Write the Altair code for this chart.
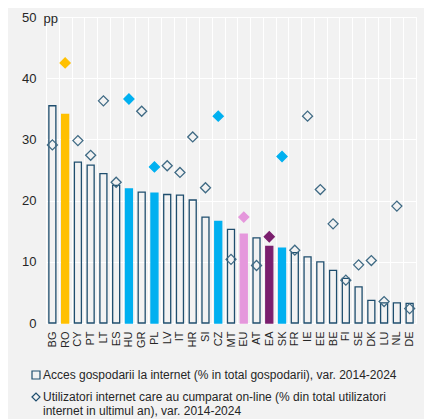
import altair as alt
import pandas as pd

countries = ["BG","RO","CY","PT","LT","ES","HU","GR","PL","LV","IT","HR","SI","CZ","MT",
             "EU","AT","EA","SK","FR","IE","EE","BE","FI","SE","DK","LU","NL","DE"]
access = [35.5,34.1,26.3,25.8,24.4,22.5,21.9,21.4,21.2,21.0,20.9,20.1,17.3,16.6,15.3,
          14.5,13.9,12.5,12.25,11.5,10.8,10.0,8.6,7.3,5.9,3.7,3.3,3.3,3.2]
online = [29.1,42.5,29.8,27.4,36.3,23.0,36.6,34.6,25.5,25.7,24.6,30.4,22.1,33.8,10.4,
          17.3,9.4,14.1,27.2,11.9,33.8,21.8,16.2,7.0,9.5,10.2,3.5,19.1,2.35]
highlight = {"RO": "#ffc000", "HU": "#00b0f0", "PL": "#00b0f0", "CZ": "#00b0f0",
             "SK": "#00b0f0", "EU": "#e597dc", "EA": "#7b1f6e"}

S1 = "Acces gospodarii la internet (% in total gospodarii), var. 2014-2024"
S2 = "Utilizatori internet care au cumparat on-line (% din total utilizatori internet in ultimul an), var. 2014-2024"
S2_lines = ["Utilizatori internet care au cumparat on-line (% din total utilizatori",
            "internet in ultimul an), var. 2014-2024"]

BAR_STROKE = "#1f4e6e"
PT_STROKE = "#3f6a84"

df = pd.DataFrame({
    "country": countries,
    "access": access,
    "online": online,
    "bfill": [highlight.get(c, "transparent") for c in countries],
    "bstroke": [highlight.get(c, BAR_STROKE) for c in countries],
    "pfill": [highlight.get(c, "transparent") for c in countries],
    "pstroke": [highlight.get(c, PT_STROKE) for c in countries],
    "series": [S2] * len(countries),
})

x_enc = alt.X("country:N", sort=countries,
              scale=alt.Scale(paddingInner=0, paddingOuter=0),
              axis=alt.Axis(title=None, labelAngle=-90, labelFontSize=11, labelColor="#262626",
                            ticks=False, domain=False, grid=True, gridColor="white",
                            gridWidth=1, tickBand="extent", labelPadding=8))

y_enc_axis = alt.Axis(title="pp", titleAngle=0, titleX=-3, titleY=1, titleAlign="left",
                      titleBaseline="middle", titleFontSize=13, titleFontWeight="normal",
                      titleColor="#262626", values=list(range(0, 55, 5)), labelFontSize=13,
                      labelColor="#262626", ticks=False, domain=False, grid=True,
                      gridColor="white", gridWidth=1, labelPadding=10)

bars = alt.Chart(df).mark_bar(size=7, strokeWidth=1.3).encode(
    x=x_enc,
    y=alt.Y("access:Q", scale=alt.Scale(domain=[0, 50], nice=False), axis=y_enc_axis),
    fill=alt.Fill("bfill:N", scale=None),
    stroke=alt.Stroke("bstroke:N", scale=None),
)

legend_expr = ("datum.label == '%s' ? ['%s', '%s'] : datum.label"
               % (S2, S2_lines[0], S2_lines[1]))

points = alt.Chart(df).mark_point(filled=True, size=100, strokeWidth=1.3, opacity=1).encode(
    x=alt.X("country:N", sort=countries),
    y=alt.Y("online:Q"),
    fill=alt.Fill("pfill:N", scale=None),
    stroke=alt.Stroke("pstroke:N", scale=None),
    shape=alt.Shape("series:N", scale=alt.Scale(domain=[S1, S2], range=["square", "diamond"]),
                    legend=alt.Legend(title=None, orient="none", legendX=-16, legendY=352,
                                      direction="vertical", labelFontSize=12,
                                      labelColor="#262626", labelLimit=500,
                                      labelExpr=legend_expr, labelBaseline="middle",
                                      symbolSize=64,
                                      symbolFillColor="transparent",
                                      symbolStrokeColor=BAR_STROKE, symbolStrokeWidth=1.2,
                                      labelOffset=1, rowPadding=8, padding=0)),
)

chart = alt.layer(bars, points).properties(
    width=370, height=306, background="#f2f2f2",
    padding={"left": 38, "top": 9, "right": 8, "bottom": 96},
    autosize=alt.AutoSizeParams(type="none"),
).configure(font="Liberation Sans").configure_view(stroke="white", strokeWidth=1, fill="#f2f2f2")

chart.save("out.html", embed_options={"renderer": "svg", "actions": False})
